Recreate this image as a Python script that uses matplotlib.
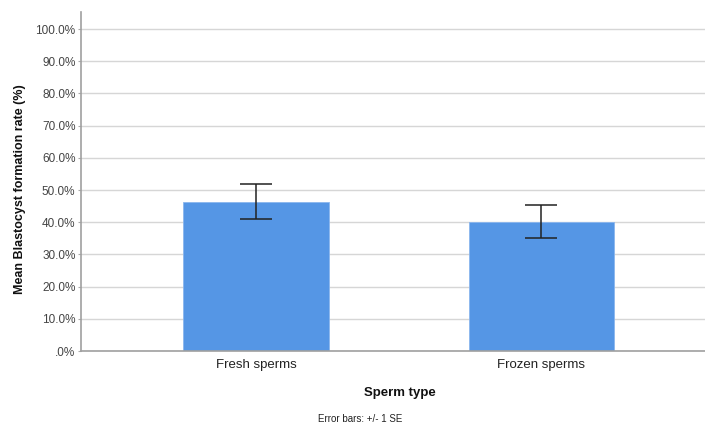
import matplotlib
matplotlib.use("Agg")
import matplotlib.pyplot as plt
from matplotlib.ticker import FuncFormatter

plt.rcParams["font.family"] = ["Liberation Sans", "DejaVu Sans"]

# data
categories = ["Fresh sperms", "Frozen sperms"]
means = [46.4, 40.2]
se = [5.5, 5.0]
y_ticks = [0, 10, 20, 30, 40, 50, 60, 70, 80, 90, 100]

fig = plt.figure(figsize=(7.05, 4.28), dpi=100)
ax = fig.add_axes([81 / 705, 77 / 428, 624 / 705, 339 / 428])

x = list(range(len(categories)))
ax.bar(x, means, width=0.51, color="#5596e5", edgecolor="#8ab6ee",
       linewidth=0.6, zorder=2)
ax.errorbar(x, means, yerr=se, fmt="none", ecolor="#222222",
            elinewidth=1.1, capsize=11.5, capthick=1.1, zorder=3)

ax.set_xlim(-0.613, 1.573)
ax.set_ylim(0, 105.3)
ax.set_yticks(y_ticks)
ax.yaxis.set_major_formatter(FuncFormatter(
    lambda v, p: ".0%" if v == 0 else f"{v:.1f}%"))
ax.set_xticks(x)
ax.set_xticklabels(categories, fontsize=9.5, color="#222222")
ax.tick_params(axis="y", labelsize=8.5, labelcolor="#444444",
               length=2, color="#aaaaaa", pad=2)
ax.tick_params(axis="x", length=0, pad=6)

ax.grid(axis="y", color="#d6d6d6", linewidth=1.0, zorder=0)
ax.set_axisbelow(True)
for s in ["top", "right"]:
    ax.spines[s].set_visible(False)
for s in ["left", "bottom"]:
    ax.spines[s].set_color("#a0a0a0")
    ax.spines[s].set_linewidth(1.2)

fig.text(400 / 705, 1 - 393 / 428, "Sperm type", ha="center", va="center",
         fontsize=9.5, fontweight="bold", color="#111111")
fig.text(20 / 705, 1 - 189 / 428, "Mean Blastocyst formation rate (%)",
         rotation=90, ha="center", va="center", fontsize=9,
         fontweight="bold", color="#111111")
fig.text(360 / 705, 1 - 419 / 428, "Error bars: +/- 1 SE", ha="center",
         va="center", fontsize=7, color="#222222")

fig.savefig("out.png", dpi=100)
